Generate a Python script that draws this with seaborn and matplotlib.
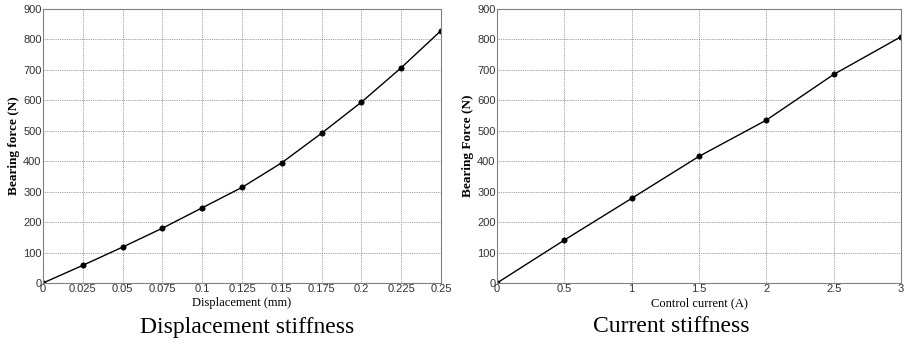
import matplotlib
matplotlib.use("Agg")
import matplotlib.pyplot as plt
import seaborn as sns
import pandas as pd

sns.set_theme(style="white")

disp_mm = [0, 0.025, 0.05, 0.075, 0.1, 0.125, 0.15, 0.175, 0.2, 0.225, 0.25]
disp_force = [0, 58, 118, 180, 247, 314, 395, 492, 594, 707, 829]
disp_ticks = [0, 0.025, 0.05, 0.075, 0.1, 0.125, 0.15, 0.175, 0.2, 0.225, 0.25]
disp_ticklabels = ["0", "0.025", "0.05", "0.075", "0.1", "0.125", "0.15", "0.175", "0.2", "0.225", "0.25"]

curr_A = [0, 0.5, 1, 1.5, 2, 2.5, 3]
curr_force = [0, 141, 278, 416, 535, 685, 809]
curr_ticks = [0, 0.5, 1, 1.5, 2, 2.5, 3]
curr_ticklabels = ["0", "0.5", "1", "1.5", "2", "2.5", "3"]

y_ticks = list(range(0, 901, 100))

W, H = 906, 344
fig = plt.figure(figsize=(W / 100, H / 100), dpi=100)
fig.patch.set_facecolor("white")


def px_axes(x0, y0, x1, y1):
    return fig.add_axes([x0 / W, 1 - y1 / H, (x1 - x0) / W, (y1 - y0) / H])


def style(ax, xs, ys, xt, xtl, xmax, xlabel, ylabel, caption, cx):
    df = pd.DataFrame({"x": xs, "y": ys})
    sns.lineplot(data=df, x="x", y="y", ax=ax, color="black", linewidth=1.0,
                 marker="o", markersize=3.6, markeredgecolor="black",
                 markerfacecolor="black")
    ax.set_xlim(0, xmax)
    ax.set_ylim(0, 900)
    ax.set_xticks(xt)
    ax.set_xticklabels(xtl)
    ax.set_yticks(y_ticks)
    ax.set_yticklabels([str(v) for v in y_ticks])
    ax.grid(True, color="#808080", linestyle=(0, (1.0, 1.2)), linewidth=0.6)
    for s in ax.spines.values():
        s.set_color("#808080")
        s.set_linewidth(0.8)
    ax.tick_params(axis="both", length=0, pad=1, labelsize=8,
                   labelcolor="#333333")
    for lab in ax.get_xticklabels() + ax.get_yticklabels():
        lab.set_family("Liberation Sans")
    ax.set_xlabel(xlabel, family="Liberation Serif", fontsize=9, labelpad=2,
                  color="black")
    ax.set_ylabel(ylabel, family="Liberation Serif", fontsize=9.5,
                  fontweight="bold", labelpad=2, color="black")
    fig.text(cx / W, 1 - 327 / H, caption, family="Liberation Serif",
             fontsize=17, ha="center", va="center", color="black")


ax1 = px_axes(43, 9, 441, 283)
style(ax1, disp_mm, disp_force, disp_ticks, disp_ticklabels, 0.25,
      "Displacement (mm)", "Bearing force (N)", "Displacement stiffness", 247)

ax2 = px_axes(497, 9, 901, 283)
style(ax2, curr_A, curr_force, curr_ticks, curr_ticklabels, 3,
      "Control current (A)", "Bearing Force (N)", "Current stiffness", 671)

fig.savefig("out.png", dpi=100, facecolor="white")
